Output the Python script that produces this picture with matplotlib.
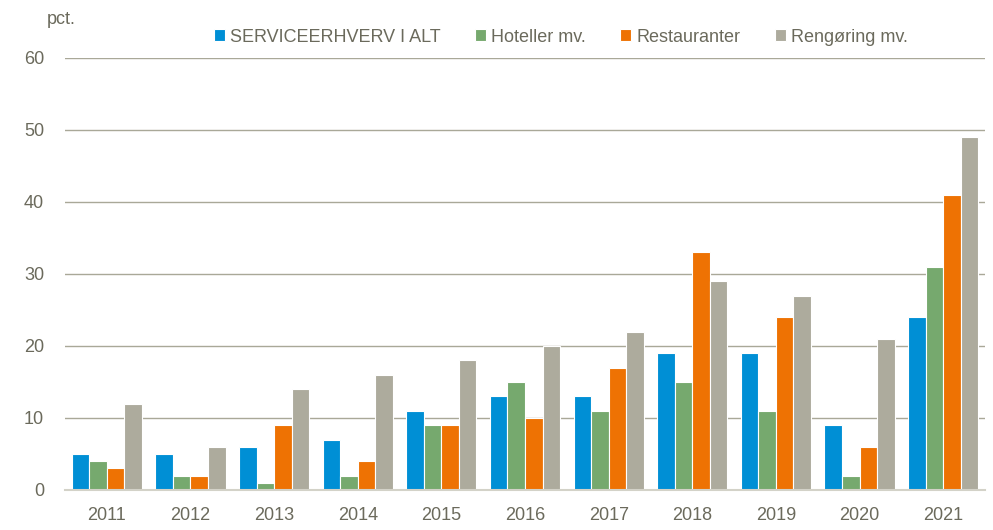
import matplotlib.pyplot as plt
import numpy as np

plt.rcParams["font.family"] = ["Liberation Sans", "DejaVu Sans"]

years = ["2011", "2012", "2013", "2014", "2015", "2016", "2017", "2018", "2019", "2020", "2021"]
series_names = ["SERVICEERHVERV I ALT", "Hoteller mv.", "Restauranter", "Rengøring mv."]
service = [5, 5, 6, 7, 11, 13, 13, 19, 19, 9, 24]
hoteller = [4, 2, 1, 2, 9, 15, 11, 15, 11, 2, 31]
restauranter = [3, 2, 9, 4, 9, 10, 17, 33, 24, 6, 41]
rengoring = [12, 6, 14, 16, 18, 20, 22, 29, 27, 21, 49]

colors = ["#008FD5", "#76A96E", "#EE7203", "#ADAB9D"]
text_color = "#6B6A5C"
fs = 13

fig = plt.figure(figsize=(9.93, 5.30), dpi=100)
ax = fig.add_axes([65 / 993, 1 - 490 / 530, 920 / 993, 432 / 530])

x = np.arange(len(years))
width = 0.21
for i, (vals, name, c) in enumerate(zip([service, hoteller, restauranter, rengoring], series_names, colors)):
    ax.bar(x + (i - 1.5) * width, vals, width, color=c, edgecolor="white", linewidth=0.8,
           label=name, zorder=3)

ax.set_xlim(-0.5, len(years) - 0.5)
ax.set_ylim(0, 60)
ax.set_yticks(range(0, 61, 10))
ax.set_xticks(x)
ax.set_xticklabels(years)
ax.yaxis.grid(True, color="#A9A898", linewidth=1.0, zorder=0)
ax.set_axisbelow(True)
for s in ["top", "right", "left"]:
    ax.spines[s].set_visible(False)
ax.spines["bottom"].set_color("#D3D2C8")
ax.spines["bottom"].set_linewidth(1.5)
ax.spines["bottom"].set_zorder(4)
ax.tick_params(axis="both", length=0, labelsize=fs, colors=text_color)
ax.tick_params(axis="x", pad=12)
ax.tick_params(axis="y", pad=15)

fig.text(47 / 993, 1 - 20 / 530, "pct.", fontsize=fs, color=text_color, va="center")

leg = fig.legend(loc="center", bbox_to_anchor=(561 / 993, 1 - 37 / 530), ncol=4, frameon=False,
                 fontsize=fs, handlelength=0.6, handleheight=0.6, handletextpad=0.3,
                 columnspacing=1.9)
for t in leg.get_texts():
    t.set_color(text_color)

fig.savefig("out.png", dpi=100)
